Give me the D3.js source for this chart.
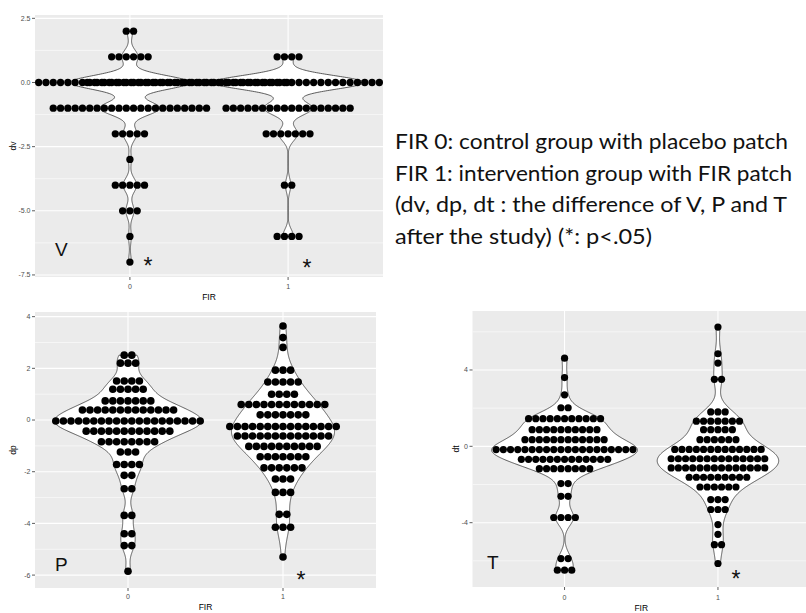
<!DOCTYPE html>
<html><head><meta charset="utf-8">
<script src="https://cdn.jsdelivr.net/npm/d3@7"></script>
<style>body{margin:0;background:#fff} svg{display:block}</style>
</head><body>
<svg id="c" width="806" height="613"></svg>
<script>
// ---------- data (value of a dot row, number of dots in that row) ----------
const categories = [0, 1];
const dvFIR0 = [[2,2],[1,6],[0,44],[-1,22],[-2,5],[-3,1],[-4,5],[-5,3],[-6,1],[-7,1]];
const dvFIR1 = [[1,4],[0,56],[-1,18],[-2,7],[-4,2],[-6,4]];
const dpFIR0 = [[2.51,2],[2.2,3],[1.51,4],[1.19,5],[0.74,7],[0.39,13],[-0.04,20],[-0.43,12],[-0.84,8],[-1.24,3],[-1.72,4],[-2.14,2],[-2.66,2],[-3.69,2],[-4.4,2],[-4.86,2],[-5.85,1]];
const dpFIR1 = [[3.64,1],[3.19,1],[2.81,1],[1.93,3],[1.47,5],[1.0,4],[0.6,12],[0.2,7],[-0.25,15],[-0.62,13],[-1.02,10],[-1.42,7],[-1.85,6],[-2.28,3],[-2.8,3],[-3.65,2],[-4.15,3],[-5.3,1]];
const dtFIR0 = [[4.62,1],[3.6,1],[2.7,1],[2.02,2],[1.45,11],[0.87,10],[0.35,12],[-0.17,20],[-0.68,13],[-1.17,8],[-1.95,2],[-2.62,2],[-3.73,4],[-5.88,2],[-6.49,3]];
const dtFIR1 = [[6.25,1],[4.85,1],[4.36,1],[3.51,2],[1.8,3],[1.32,7],[0.87,5],[0.35,6],[-0.16,13],[-0.65,14],[-1.13,14],[-1.62,9],[-2.13,6],[-2.79,3],[-3.31,3],[-4.1,1],[-4.61,1],[-5.15,2],[-6.14,1]];

const dvTicks = [2.5, 0, -2.5, -5, -7.5];
const dvTickLabels = ["2.5", "0.0", "-2.5", "-5.0", "-7.5"];
const dvMinor = [1.25, -1.25, -3.75, -6.25];
const dpTicks = [4, 2, 0, -2, -4, -6];
const dpTickLabels = ["4", "2", "0", "-2", "-4", "-6"];
const dpMinor = [3, 1, -1, -3, -5];
const dtTicks = [4, 0, -4];
const dtTickLabels = ["4", "0", "-4"];
const dtMinor = [6, 2, -2, -6];

const noteLines = [
  "FIR 0: control group with placebo patch",
  "FIR 1: intervention group with FIR patch",
  "(dv, dp, dt : the difference of V, P and T",
  "after the study) (*: p<.05)"
];

// ---------- layout ----------
const panels = [
  {label:"V", title:"dv", rows:[dvFIR0, dvFIR1], ticks:dvTicks, tickLabels:dvTickLabels, minor:dvMinor,
   box:{l:35, r:383, t:15, b:277}, yDom:[-7.58, 2.63], dot:7.3,
   labelPos:[55,256], stars:[[148,274],[307,276]], xTitleY:300, xLabY:289, yTitleX:16},
  {label:"P", title:"dp", rows:[dpFIR0, dpFIR1], ticks:dpTicks, tickLabels:dpTickLabels, minor:dpMinor,
   box:{l:35, r:376, t:312, b:588}, yDom:[-6.5, 4.18], dot:7.6,
   labelPos:[55,571], stars:[[null,null],[301,588]], xTitleY:610, xLabY:599, yTitleX:16},
  {label:"T", title:"dt", rows:[dtFIR0, dtFIR1], ticks:dtTicks, tickLabels:dtTickLabels, minor:dtMinor,
   box:{l:472.5, r:810, t:311, b:587}, yDom:[-7.37, 7.09], dot:7.2,
   labelPos:[487,569], stars:[[null,null],[736,587]], xTitleY:611, xLabY:600, yTitleX:459}
];
const violinWidth = 0.95;

const svg = d3.select("#c");
svg.append("rect").attr("width",806).attr("height",613).attr("fill","#fff");

function kde(values, n) {
  const v = values.slice().sort(d3.ascending);
  const N = v.length;
  const sd = d3.deviation(v);
  const iqr = d3.quantile(v, 0.75) - d3.quantile(v, 0.25);
  let lo = Math.min(sd, iqr / 1.34);
  if (!(lo > 0)) lo = sd || 1;
  const bw = 0.9 * lo * Math.pow(N, -0.2);
  const mn = v[0], mx = v[N - 1];
  const pts = [];
  for (let i = 0; i < n; i++) {
    const y = mn + (mx - mn) * i / (n - 1);
    let s = 0;
    for (const xi of v) { const z = (y - xi) / bw; s += Math.exp(-0.5 * z * z); }
    pts.push({y, d: s / (N * bw * Math.sqrt(2 * Math.PI))});
  }
  return pts;
}

panels.forEach((p, pi) => {
  const {l, r, t, b} = p.box;
  const x = d3.scaleLinear().domain([-0.6, 1.6]).range([l, r]);
  const y = d3.scaleLinear().domain(p.yDom).range([b, t]);
  const g = svg.append("g");
  const clipId = "clip" + pi;
  svg.append("clipPath").attr("id", clipId).append("rect")
    .attr("x", l).attr("y", t).attr("width", r - l).attr("height", b - t);

  g.append("rect").attr("x", l).attr("y", t).attr("width", r - l).attr("height", b - t).attr("fill", "#EBEBEB");
  const grid = g.append("g").attr("clip-path", `url(#${clipId})`);
  p.minor.forEach(v => grid.append("line").attr("x1", l).attr("x2", r).attr("y1", y(v)).attr("y2", y(v))
    .attr("stroke", "#fff").attr("stroke-width", 0.55));
  p.ticks.forEach(v => grid.append("line").attr("x1", l).attr("x2", r).attr("y1", y(v)).attr("y2", y(v))
    .attr("stroke", "#fff").attr("stroke-width", 1.1));
  categories.forEach(c => grid.append("line").attr("x1", x(c)).attr("x2", x(c)).attr("y1", t).attr("y2", b)
    .attr("stroke", "#fff").attr("stroke-width", 1.1));

  // violins
  const dens = p.rows.map(rows => kde(rows.flatMap(([v, n]) => d3.range(n).map(() => v)), 512));
  const maxD = d3.max(dens.flat(), d => d.d);
  const plot = g.append("g").attr("clip-path", `url(#${clipId})`);
  dens.forEach((pts, gi) => {
    const c = categories[gi];
    const area = d3.area()
      .y(d => y(d.y))
      .x0(d => x(c - violinWidth / 2 * d.d / maxD))
      .x1(d => x(c + violinWidth / 2 * d.d / maxD));
    plot.append("path").datum(pts).attr("d", area)
      .attr("fill", "#fff").attr("stroke", "#333").attr("stroke-width", 0.8);
  });
  // dots
  p.rows.forEach((rows, gi) => {
    const c = categories[gi];
    const dots = rows.flatMap(([v, n]) => d3.range(n).map(i => ({v, off: i - (n - 1) / 2})));
    plot.selectAll(null).data(dots).enter().append("circle")
      .attr("cx", d => x(c) + d.off * p.dot)
      .attr("cy", d => y(d.v))
      .attr("r", p.dot / 2)
      .attr("fill", "#000");
  });

  // axes
  const ax = g.append("g").attr("font-family", "Liberation Sans, Arial, sans-serif");
  p.ticks.forEach((v, i) => {
    ax.append("line").attr("x1", l - 3).attr("x2", l).attr("y1", y(v)).attr("y2", y(v))
      .attr("stroke", "#333").attr("stroke-width", 0.8);
    ax.append("text").attr("x", l - 4.5).attr("y", y(v)).attr("dy", "0.35em")
      .attr("text-anchor", "end").attr("font-size", 7).attr("fill", "#4D4D4D").text(p.tickLabels[i]);
  });
  categories.forEach(c => {
    ax.append("line").attr("x1", x(c)).attr("x2", x(c)).attr("y1", b).attr("y2", b + 3)
      .attr("stroke", "#333").attr("stroke-width", 0.8);
    ax.append("text").attr("x", x(c)).attr("y", p.xLabY).attr("text-anchor", "middle")
      .attr("font-size", 7).attr("fill", "#4D4D4D").text(String(c));
  });
  ax.append("text").attr("x", (x(0) + x(1)) / 2).attr("y", p.xTitleY).attr("text-anchor", "middle")
    .attr("font-size", 8.5).attr("fill", "#000").text("FIR");
  ax.append("text").attr("transform", `translate(${p.yTitleX},${(t + b) / 2}) rotate(-90)`)
    .attr("text-anchor", "middle").attr("font-size", 8.5).attr("fill", "#000").text(p.title);

  // annotations
  g.append("text").attr("x", p.labelPos[0]).attr("y", p.labelPos[1])
    .attr("font-family", "Liberation Sans, Arial, sans-serif").attr("font-size", 19).attr("fill", "#111").text(p.label);
  p.stars.forEach(s => {
    if (s[0] == null) return;
    g.append("text").attr("x", s[0]).attr("y", s[1]).attr("text-anchor", "middle")
      .attr("font-family", "Liberation Sans, Arial, sans-serif").attr("font-size", 23).attr("fill", "#111").text("*");
  });
});

// note text
const noteWidths = [393, 397, 392, 257];
const noteY = [149, 180.5, 212, 243.5];
noteLines.forEach((s, i) => {
  svg.append("text").attr("x", 395).attr("y", noteY[i])
    .attr("font-family", "Lato, 'Open Sans', sans-serif").attr("font-size", 21.5).attr("fill", "#111")
    .attr("textLength", noteWidths[i]).attr("lengthAdjust", "spacingAndGlyphs").text(s);
});
</script>
</body></html>
